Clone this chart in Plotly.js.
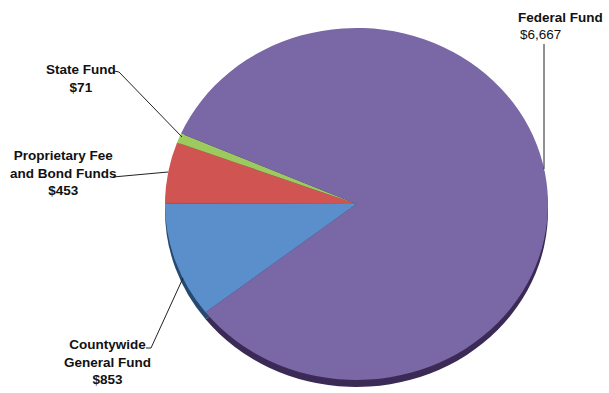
<!DOCTYPE html>
<html>
<head>
<meta charset="utf-8">
<script src="https://cdn.plot.ly/plotly-3.0.1.min.js"></script>
<style>
html,body{margin:0;padding:0;background:#fff;}
#chart{width:609px;height:393px;}
</style>
</head>
<body>
<div id="chart"></div>
<script>
// ---- data ----
var funds = ["Countywide General Fund", "Proprietary Fee and Bond Funds", "State Fund", "Federal Fund"];
var labelLines = [["Countywide", "General Fund"], ["Proprietary Fee", "and Bond Funds"], ["State Fund"], ["Federal Fund"]];
var amounts = [853, 453, 71, 6667];
var sliceColors = ["#5b8fcb", "#cf5452", "#9dca5e", "#7a67a5"];
var rimColors = ["#25496f", "#5e2626", "#41602a", "#3a2a55"];

var W = 609, H = 393;
function px(x){ return x / W; }
function py(y){ return 1 - y / H; }

function money(v){ return "$" + v.toLocaleString("en-US"); }

var dom = {x:[px(180.5), px(532.5)], y:[py(380), py(28)]};
var rimShift = 7 / H;

var traces = [
  {
    type: "pie", values: amounts, labels: funds, sort: false,
    direction: "clockwise", rotation: 232,
    marker: {colors: rimColors, line: {width: 0}},
    textinfo: "none", hoverinfo: "skip", showlegend: false,
    domain: {x: dom.x, y: [dom.y[0] - rimShift, dom.y[1] - rimShift]}
  },
  {
    type: "pie", values: amounts, labels: funds, sort: false,
    direction: "clockwise", rotation: 232,
    marker: {colors: sliceColors, line: {width: 0}},
    textinfo: "none", hoverinfo: "skip", showlegend: false,
    domain: dom
  }
];

var fnt = {family: "'Liberation Sans Narrow', 'Arial Narrow', 'Liberation Sans', Arial, sans-serif", size: 13.5, color: "#111"};

// label positions (pixel centers)
var labelPos = [[107, 362], [63, 173], [81, 78]];
var annotations = [];
for (var i = 0; i < 3; i++) {
  var txt = labelLines[i].map(function(s){ return "<b>" + s + "</b>"; }).join("<br>") + "<br><b>" + money(amounts[i]) + "</b>";
  annotations.push({
    xref: "paper", yref: "paper", x: px(labelPos[i][0]), y: py(labelPos[i][1]),
    xanchor: "center", yanchor: "middle", showarrow: false, align: "center",
    text: txt, font: fnt
  });
}
annotations.push({
  xref: "paper", yref: "paper", x: px(516), y: py(17), xanchor: "left", yanchor: "middle",
  showarrow: false, text: "<b>" + labelLines[3][0] + "</b>", font: fnt
});
annotations.push({
  xref: "paper", yref: "paper", x: px(518), y: py(35), xanchor: "left", yanchor: "middle",
  showarrow: false, text: money(amounts[3]), font: fnt
});

function seg(x0, y0, x1, y1){
  return {type: "line", xref: "paper", yref: "paper", x0: px(x0), y0: py(y0), x1: px(x1), y1: py(y1),
          line: {color: "#222", width: 1}};
}
var shapes = [
  seg(114, 71, 119, 72), seg(119, 72, 182, 137),
  seg(113, 177, 168, 172),
  seg(146, 348, 151, 348), seg(151, 348, 183, 278),
  seg(544, 44, 544, 169)
];

var layout = {
  width: W, height: H,
  margin: {l: 0, r: 0, t: 0, b: 0},
  paper_bgcolor: "#fff",
  showlegend: false,
  annotations: annotations,
  shapes: shapes
};

Plotly.newPlot("chart", traces, layout, {staticPlot: true, displayModeBar: false}).then(function(){
  var sx = 191.5 / 176, cx = 356.5;
  var pl = document.querySelector(".pielayer");
  if (pl) pl.setAttribute("transform", "translate(" + (cx * (1 - sx)) + ",0) scale(" + sx + ",1)");
});
</script>
</body>
</html>
